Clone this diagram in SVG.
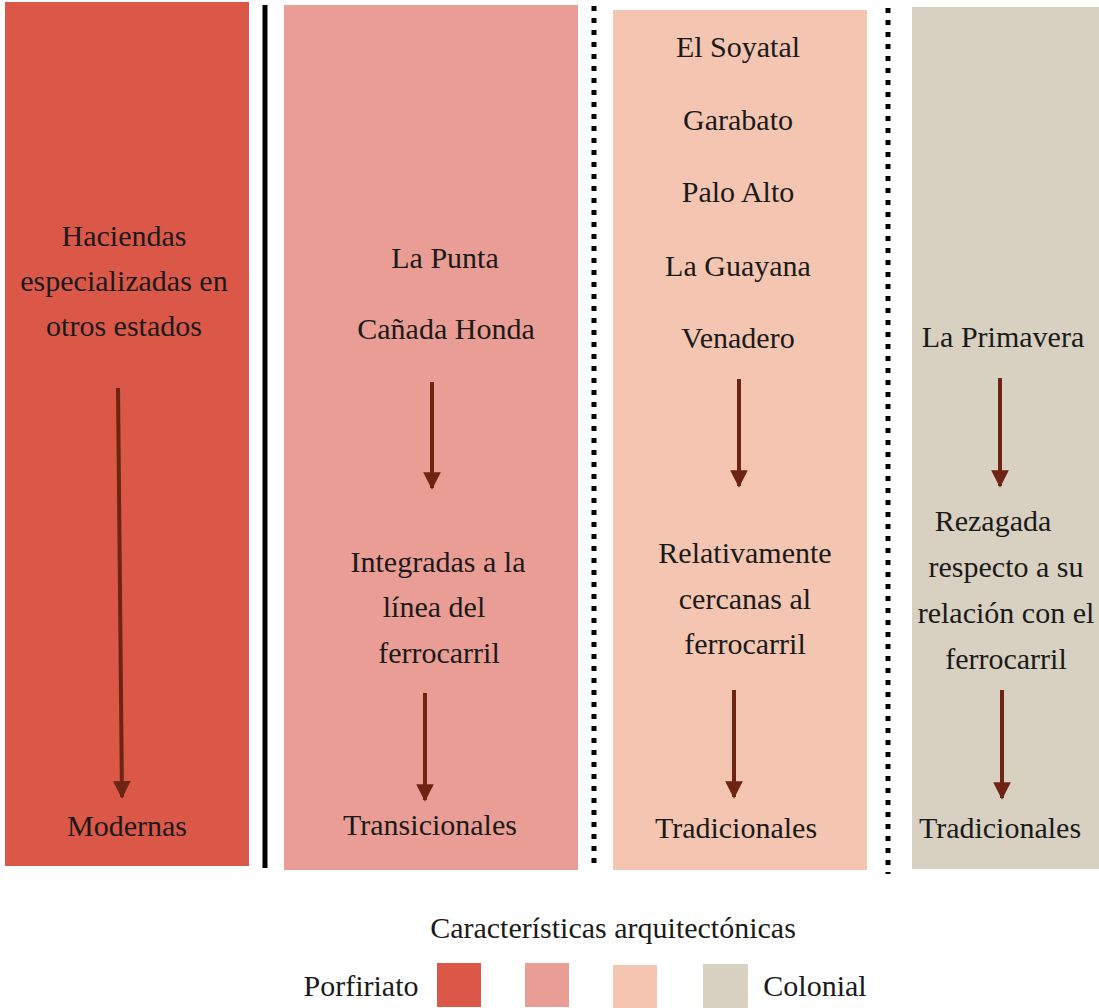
<svg xmlns="http://www.w3.org/2000/svg" width="1099" height="1008" viewBox="0 0 1099 1008">
<defs>
<style>
text{font-family:"Liberation Serif","Times New Roman",serif;font-size:30px;fill:#1a1a1a;text-anchor:middle}
.arr{stroke:#6e2412;stroke-width:4;fill:none}
.dot{stroke:#000;stroke-width:5;stroke-dasharray:5 7}
</style>
<marker id="ah" viewBox="0 0 10 10" refX="9" refY="5" markerWidth="4.4" markerHeight="4.4" markerUnits="strokeWidth" orient="auto">
<path d="M0,0 L10,5 L0,10 z" fill="#6e2412"/>
</marker>
</defs>
<rect width="1099" height="1008" fill="#fff"/>
<g id="col1">
<rect x="5" y="2" width="244" height="864" fill="#db5748"/>
<text x="124" y="246">Haciendas</text>
<text x="124" y="291">especializadas en</text>
<text x="124" y="336">otros estados</text>
<text x="127" y="836">Modernas</text>
</g>
<g id="col2">
<rect x="284" y="5" width="294" height="865" fill="#ea9d94"/>
<text x="445" y="268">La Punta</text>
<text x="446" y="339">Cañada Honda</text>
<text x="438" y="572">Integradas a la</text>
<text x="434" y="617">línea del</text>
<text x="439" y="663">ferrocarril</text>
<text x="430" y="835">Transicionales</text>
</g>
<g id="col3">
<rect x="613" y="10" width="254" height="860" fill="#f4c5b1"/>
<text x="738" y="57">El Soyatal</text>
<text x="738" y="130">Garabato</text>
<text x="738" y="202">Palo Alto</text>
<text x="738" y="276">La Guayana</text>
<text x="738" y="348">Venadero</text>
<text x="745" y="563">Relativamente</text>
<text x="745" y="609">cercanas al</text>
<text x="745" y="654">ferrocarril</text>
<text x="736" y="838">Tradicionales</text>
</g>
<g id="col4">
<rect x="912" y="7" width="187" height="862" fill="#d8d0c1"/>
<text x="1003" y="347">La Primavera</text>
<text x="993" y="531">Rezagada</text>
<text x="1006" y="577">respecto a su</text>
<text x="1006" y="623">relación con el</text>
<text x="1006" y="669">ferrocarril</text>
<text x="1000" y="838">Tradicionales</text>
</g>
<g id="separators">
<line x1="265" y1="5" x2="265" y2="868" stroke="#000" stroke-width="5"/>
<line class="dot" x1="594" y1="6" x2="594" y2="870"/>
<line class="dot" x1="888" y1="8" x2="888" y2="874"/>
</g>
<g id="connectors">
<line class="arr" x1="118" y1="388" x2="122" y2="797" marker-end="url(#ah)"/>
<line class="arr" x1="432" y1="382" x2="432" y2="488" marker-end="url(#ah)"/>
<line class="arr" x1="425" y1="693" x2="425" y2="800" marker-end="url(#ah)"/>
<line class="arr" x1="739" y1="379" x2="739" y2="486" marker-end="url(#ah)"/>
<line class="arr" x1="734" y1="690" x2="734" y2="797" marker-end="url(#ah)"/>
<line class="arr" x1="1000" y1="378" x2="1000" y2="486" marker-end="url(#ah)"/>
<line class="arr" x1="1002" y1="690" x2="1002" y2="798" marker-end="url(#ah)"/>
</g>
<g id="legend">
<text x="613" y="938">Características arquitectónicas</text>
<text x="361" y="996">Porfiriato</text>
<rect x="437" y="963" width="44" height="44" fill="#db5748"/>
<rect x="525" y="963" width="44" height="44" fill="#ea9d94"/>
<rect x="613" y="965" width="44" height="43" fill="#f4c5b1"/>
<rect x="703" y="964" width="45" height="44" fill="#d8d0c1"/>
<text x="815" y="996">Colonial</text>
</g>
</svg>
